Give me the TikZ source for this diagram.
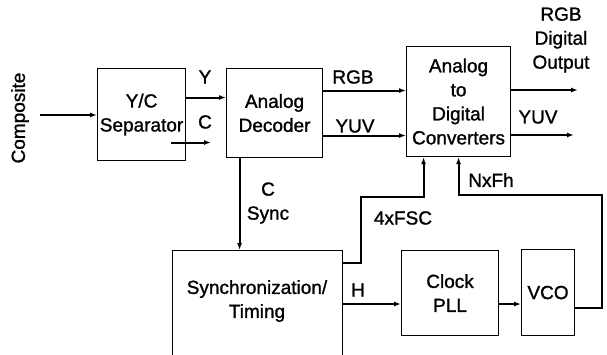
\documentclass[tikz,border=0pt]{standalone}
\usepackage{fontspec}
\setmainfont{Liberation Sans}[FakeBold=1.2, AutoFakeBold=1.2]
\usepackage{tikz}
\usetikzlibrary{arrows.meta, positioning}

\begin{document}
\begin{tikzpicture}[x=1pt, y=-1pt,
    font=\fontsize{19}{24}\bfseries,
    blk/.style={draw, line width=1.1pt, align=center, anchor=north west, inner sep=0pt},
    sig/.style={line width=2pt, -{Latex[length=7pt,width=5pt]}},
    lbl/.style={align=center, inner sep=0pt}]
  \useasboundingbox (0,0) rectangle (607,354);
  \clip (0,0) rectangle (607,354);
  % blocks
  \node[blk, minimum width=88pt, minimum height=92pt] (sep) at (97,68) {Y/C\\Separator};
  \node[blk, minimum width=96pt, minimum height=89pt] (dec) at (226,68) {Analog\\Decoder};
  \node[blk, minimum width=104pt, minimum height=110pt] (adc) at (406,46) {Analog\\to\\Digital\\Converters};
  \node[blk, minimum width=170pt, minimum height=140pt] (sync) at (172,250) {};
  \node[lbl] (synctxt) at (257,301) {Synchronization/\\Timing};
  \node[blk, minimum width=97pt, minimum height=85pt] (pll) at (401,250) {Clock\\PLL};
  \node[blk, minimum width=53pt, minimum height=86pt] (vco) at (521,249) {VCO};
  % composite input
  \node[lbl, rotate=90] (comp) at (20,118) {Composite};
  \coordinate (cin) at (40,115);
  \draw[sig] (cin) -- (cin -| sep.west);
  % Y and C into the decoder
  \draw[sig] ([yshift=17pt]sep.east) -- ([yshift=17pt]sep.east -| dec.west);
  \draw[sig] ([shift={(-15pt,-28pt)}]sep.east) -- ([shift={(-15pt,-28pt)}]sep.east -| dec.west);
  \node[lbl] (ylbl) at (205,77) {Y};
  \node[lbl] (clbl) at (205,122) {C};
  % RGB and YUV into the converters
  \draw[sig] ([yshift=22.5pt]dec.east) -- ([yshift=22.5pt]dec.east -| adc.west);
  \draw[sig] ([yshift=-22.5pt]dec.east) -- ([yshift=-22.5pt]dec.east -| adc.west);
  \node[lbl] (rgblbl) at (353,77) {RGB};
  \node[lbl] (yuvlbl) at (355,126) {YUV};
  % digital outputs
  \coordinate (rgbout) at (578,90);
  \coordinate (yuvout) at (574,135);
  \draw[sig] (adc.east |- rgbout) -- (rgbout);
  \draw[sig] (adc.east |- yuvout) -- (yuvout);
  \node[lbl] (outlbl) at (561,40) {RGB\\Digital\\Output};
  \node[lbl] (yuvolbl) at (538,117) {YUV};
  % C sync down to timing
  \draw[sig] ([xshift=-35pt]dec.south) -- ([xshift=-35pt]dec.south |- sync.north);
  \node[lbl] (csynclbl) at (268,203) {C\\Sync};
  % 4xFSC up to the converters
  \coordinate (fscbend) at (361,197);
  \draw[sig] ([yshift=-13pt]sync.north east) -| (fscbend) -| ([xshift=-35pt]adc.south);
  \node[lbl] (fsclbl) at (403,218) {4xFSC};
  % H into the PLL, PLL into the VCO
  \draw[sig] ([yshift=-54pt]sync.north east) -- ([yshift=-54pt]sync.north east -| pll.west);
  \node[lbl] (hlbl) at (358,290) {H};
  \draw[sig] ([yshift=-11pt]pll.east) -- ([yshift=-11pt]pll.east -| vco.west);
  % NxFh feedback
  \coordinate (nbend) at (602,195);
  \draw[sig] ([yshift=-15pt]vco.east) -| (nbend) -| (adc.south);
  \node[lbl] (nlbl) at (491,180) {NxFh};
\end{tikzpicture}
\end{document}
